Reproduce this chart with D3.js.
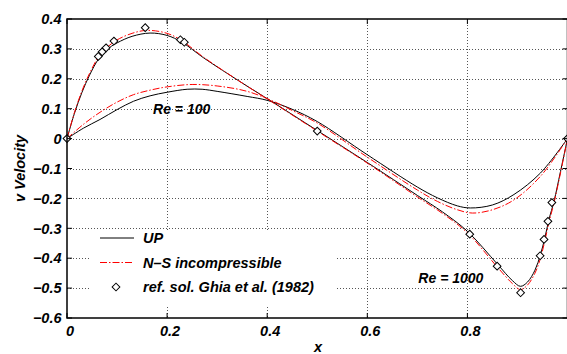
<!DOCTYPE html>
<html>
<head>
<meta charset="utf-8">
<script src="https://cdn.jsdelivr.net/npm/d3@7"></script>
<style>
  body { margin: 0; background: #fff; }
  text { font-family: "Liberation Sans", Arial, sans-serif; font-weight: bold; font-style: italic; }
</style>
</head>
<body>
<div id="chart"></div>
<script>
// Data
const xTicks = [0, 0.2, 0.4, 0.6, 0.8];
const yTicks = [0.4, 0.3, 0.2, 0.1, 0, -0.1, -0.2, -0.3, -0.4, -0.5, -0.6];

// Re = 100, UP (solid black)
const re100UpX = [0, 0.033, 0.066, 0.1, 0.133, 0.166, 0.2, 0.24, 0.27, 0.3, 0.36, 0.4, 0.45, 0.5, 0.6, 0.7, 0.74, 0.78, 0.806, 0.85, 0.893, 0.946, 1];
const re100UpV = [0, 0.035, 0.064, 0.097, 0.125, 0.143, 0.155, 0.165, 0.165, 0.158, 0.141, 0.128, 0.098, 0.057, -0.054, -0.162, -0.198, -0.225, -0.232, -0.222, -0.187, -0.115, 0];

// Re = 100, N-S incompressible (red dash-dot)
const re100NsX = [0, 0.033, 0.066, 0.1, 0.133, 0.166, 0.2, 0.25, 0.3, 0.36, 0.412, 0.45, 0.5, 0.6, 0.7, 0.74, 0.78, 0.81, 0.85, 0.893, 0.946, 1];
const re100NsV = [0, 0.048, 0.088, 0.122, 0.147, 0.162, 0.173, 0.181, 0.176, 0.158, 0.125, 0.094, 0.052, -0.062, -0.172, -0.21, -0.238, -0.249, -0.238, -0.205, -0.126, 0];

// Re = 1000, UP (solid black)
const re1000UpX = [0, 0.015, 0.03, 0.045, 0.0625, 0.08, 0.1, 0.13, 0.166, 0.2, 0.23, 0.273, 0.35, 0.41, 0.5, 0.6, 0.7, 0.75, 0.8, 0.86, 0.89, 0.906, 0.92, 0.935, 0.946, 0.955, 0.963, 0.973, 0.986, 1];
const re1000UpV = [0, 0.085, 0.155, 0.212, 0.265, 0.298, 0.32, 0.342, 0.353, 0.345, 0.322, 0.27, 0.186, 0.123, 0.027, -0.08, -0.19, -0.245, -0.31, -0.42, -0.475, -0.494, -0.48, -0.44, -0.388, -0.33, -0.27, -0.21, -0.11, 0];

// Re = 1000, N-S incompressible (red dash-dot)
const re1000NsX = [0, 0.015, 0.03, 0.045, 0.0625, 0.08, 0.1, 0.13, 0.16, 0.2, 0.23, 0.273, 0.35, 0.41, 0.5, 0.6, 0.7, 0.75, 0.8, 0.86, 0.89, 0.906, 0.92, 0.935, 0.946, 0.955, 0.963, 0.973, 0.986, 1];
const re1000NsV = [0, 0.088, 0.16, 0.218, 0.272, 0.305, 0.33, 0.352, 0.362, 0.352, 0.327, 0.272, 0.186, 0.122, 0.025, -0.082, -0.195, -0.25, -0.315, -0.43, -0.485, -0.505, -0.49, -0.45, -0.4, -0.34, -0.28, -0.215, -0.115, 0];

// Ghia et al. (1982), Re = 1000
const ghiaX = [0, 0.0625, 0.0703, 0.0781, 0.0938, 0.1563, 0.2266, 0.2344, 0.5, 0.8047, 0.8594, 0.9063, 0.9453, 0.9531, 0.9609, 0.9688, 1];
const ghiaV = [0, 0.27485, 0.29012, 0.30353, 0.32627, 0.37095, 0.33075, 0.32235, 0.02526, -0.31966, -0.42665, -0.51550, -0.39188, -0.33714, -0.27669, -0.21388, 0];

const legendLabels = ["UP", "N\u2013S incompressible", "ref. sol. Ghia et al. (1982)"];

const width = 567, height = 354;
const plotLeft = 67, plotRight = 567.5, plotTop = 19, plotBottom = 318;

const svg = d3.select("#chart").append("svg")
    .attr("width", width)
    .attr("height", height);

const x = d3.scaleLinear().domain([0, 1]).range([plotLeft, plotRight]);
const y = d3.scaleLinear().domain([-0.6, 0.4]).range([plotBottom, plotTop]);

svg.append("clipPath").attr("id", "plot-clip")
  .append("rect")
    .attr("x", plotLeft).attr("y", plotTop)
    .attr("width", plotRight - plotLeft).attr("height", plotBottom - plotTop);

// Grid
const grid = svg.append("g")
    .attr("stroke", "#555")
    .attr("stroke-width", 1)
    .attr("stroke-dasharray", "1,2");

grid.selectAll(".vgrid")
    .data(xTicks.filter(d => d > 0))
    .enter().append("line")
    .attr("x1", d => Math.round(x(d)) + 0.5)
    .attr("x2", d => Math.round(x(d)) + 0.5)
    .attr("y1", plotTop).attr("y2", plotBottom);

grid.selectAll(".hgrid")
    .data(yTicks.filter(d => d < 0.4 && d > -0.6))
    .enter().append("line")
    .attr("y1", d => Math.round(y(d)) + 0.5)
    .attr("y2", d => Math.round(y(d)) + 0.5)
    .attr("x1", plotLeft).attr("x2", plotRight);

// Curves
const line = d3.line()
    .x(d => x(d[0]))
    .y(d => y(d[1]))
    .curve(d3.curveCatmullRom.alpha(0.5));

const curves = [
    { xs: re100UpX, vs: re100UpV, color: "#000", dash: null },
    { xs: re1000UpX, vs: re1000UpV, color: "#000", dash: null },
    { xs: re100NsX, vs: re100NsV, color: "#ff0000", dash: "7,2,1.5,2" },
    { xs: re1000NsX, vs: re1000NsV, color: "#ff0000", dash: "7,2,1.5,2" }
];

const plot = svg.append("g").attr("clip-path", "url(#plot-clip)");

plot.selectAll(".curve")
    .data(curves)
    .enter().append("path")
    .attr("class", "curve")
    .attr("d", c => line(c.xs.map((v, i) => [v, c.vs[i]])))
    .attr("fill", "none")
    .attr("stroke", c => c.color)
    .attr("stroke-width", 1)
    .attr("stroke-dasharray", c => c.dash);

// Reference diamonds
const diamond = d3.symbol().type(d3.symbolSquare).size(30);

svg.selectAll(".ghia")
    .data(ghiaX.map((v, i) => [v, ghiaV[i]]))
    .enter().append("path")
    .attr("class", "ghia")
    .attr("d", diamond)
    .attr("transform", d => `translate(${x(d[0])},${y(d[1])}) rotate(45)`)
    .attr("fill", "#fff")
    .attr("stroke", "#000")
    .attr("stroke-width", 1);

// Curve labels
svg.append("text")
    .attr("x", x(0.172)).attr("y", y(0.1) + 5)
    .style("font-size", "14px")
    .text("Re = 100");

svg.append("text")
    .attr("x", x(0.702)).attr("y", y(-0.465) + 5)
    .style("font-size", "14px")
    .text("Re = 1000");

// Legend
svg.append("rect")
    .attr("x", 90).attr("y", 232)
    .attr("width", 247).attr("height", 73)
    .attr("fill", "#fff");

const legend = svg.append("g")
    .attr("transform", "translate(100, 238)");

const items = legend.selectAll(".legend-item")
    .data(legendLabels)
    .enter().append("g")
    .attr("class", "legend-item")
    .attr("transform", (d, i) => `translate(0, ${i * 24.5})`);

items.filter((d, i) => i < 2).append("line")
    .attr("x1", 0).attr("x2", 34)
    .attr("y1", 0).attr("y2", 0)
    .attr("stroke", (d, i) => i === 0 ? "#000" : "#ff0000")
    .attr("stroke-width", 1)
    .attr("stroke-dasharray", (d, i) => i === 0 ? null : "7,2,1.5,2");

items.filter((d, i) => i === 2).append("path")
    .attr("d", diamond)
    .attr("transform", "translate(16,0) rotate(45)")
    .attr("fill", "#fff")
    .attr("stroke", "#000");

items.append("text")
    .attr("x", 43)
    .attr("y", 0)
    .attr("dy", "0.36em")
    .style("font-size", "14.5px")
    .text(d => d);

// Frame and ticks
svg.append("rect")
    .attr("x", plotLeft).attr("y", plotTop)
    .attr("width", plotRight - plotLeft).attr("height", plotBottom - plotTop)
    .attr("fill", "none")
    .attr("stroke", "#000")
    .attr("stroke-width", 1.5);

const ticks = svg.append("g").attr("stroke", "#000").attr("stroke-width", 1);
const tl = 5;

xTicks.forEach(t => {
    ticks.append("line").attr("x1", x(t)).attr("x2", x(t)).attr("y1", plotBottom).attr("y2", plotBottom - tl);
    ticks.append("line").attr("x1", x(t)).attr("x2", x(t)).attr("y1", plotTop).attr("y2", plotTop + tl);
});
yTicks.forEach(t => {
    ticks.append("line").attr("y1", y(t)).attr("y2", y(t)).attr("x1", plotLeft).attr("x2", plotLeft + tl);
    ticks.append("line").attr("y1", y(t)).attr("y2", y(t)).attr("x1", plotRight).attr("x2", plotRight - tl);
});

const fmt = d => d === 0 ? "0" : d3.format(".1f")(d);

svg.selectAll(".xlabel")
    .data(xTicks)
    .enter().append("text")
    .attr("x", d => x(d) + 3)
    .attr("y", 336)
    .attr("text-anchor", "middle")
    .style("font-size", "14.5px")
    .text(fmt);

svg.selectAll(".ylabel")
    .data(yTicks)
    .enter().append("text")
    .attr("x", 61.5)
    .attr("y", d => y(d))
    .attr("dy", "0.36em")
    .attr("text-anchor", "end")
    .style("font-size", "14.5px")
    .text(fmt);

// Axis titles
svg.append("text")
    .attr("x", 318).attr("y", 352)
    .attr("text-anchor", "middle")
    .style("font-size", "14.5px")
    .text("x");

svg.append("text")
    .attr("transform", `translate(25, ${(plotTop + plotBottom) / 2}) rotate(-90)`)
    .attr("text-anchor", "middle")
    .style("font-size", "14.5px")
    .text("v Velocity");
</script>
</body>
</html>
